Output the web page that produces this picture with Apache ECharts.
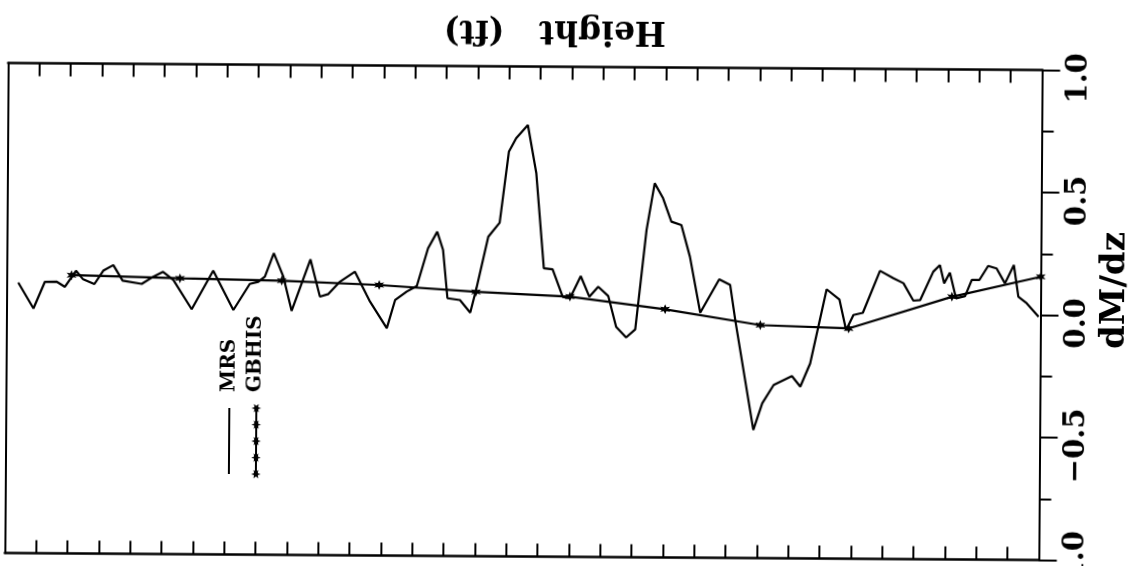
<!DOCTYPE html>
<html>
<head>
<meta charset="utf-8">
<script src="https://cdn.jsdelivr.net/npm/echarts@6/dist/echarts.min.js"></script>
<style>
  html, body { margin: 0; padding: 0; background: #fff; overflow: hidden; }
  #chart {
    width: 1144px; height: 566px; background: #fff;
    transform-origin: 523.5px 311.5px;
    transform: rotate(0.39deg);
  }
</style>
</head>
<body>
<div id="chart"></div>
<script>
// MRS profile: height (ft) and dM/dz
const mrsHeight = [37, 86, 122, 159, 186, 221, 244, 280, 308, 340, 370, 431, 468, 499, 532, 591, 659, 724, 776, 803,
  824, 852, 883, 910, 969, 1000, 1027, 1064, 1111, 1149, 1160, 1214, 1240, 1277, 1309, 1344, 1373, 1392, 1407, 1447,
  1480, 1498, 1536, 1572, 1600, 1623, 1660, 1688, 1714, 1742, 1775, 1798, 1832, 1860, 1888, 1920, 1946, 1978, 2007, 2041,
  2066, 2093, 2120, 2152, 2180, 2214, 2274, 2309, 2326, 2386, 2414, 2450, 2508, 2535, 2566, 2617, 2658, 2680, 2703, 2733,
  2787, 2830, 2862, 2894, 2916, 2957, 2978, 2992, 3010, 3030, 3059, 3080, 3104, 3132, 3159, 3186, 3214, 3229, 3256, 3294];
const mrsValue = [0.104, -0.001, 0.108, 0.109, 0.088, 0.154, 0.119, 0.100, 0.155, 0.178, 0.115, 0.102, 0.132, 0.152, 0.119, 0.000, 0.158, -0.002, 0.105, 0.114,
  0.135, 0.231, 0.135, -0.004, 0.207, 0.055, 0.066, 0.117, 0.158, 0.063, 0.036, -0.072, 0.043, 0.078, 0.101, 0.255, 0.323, 0.249, 0.052, 0.045,
  -0.006, 0.086, 0.304, 0.362, 0.652, 0.707, 0.761, 0.564, 0.177, 0.173, 0.061, 0.055, 0.146, 0.062, 0.103, 0.066, -0.060, -0.103, -0.070, 0.336,
  0.527, 0.466, 0.371, 0.357, 0.228, 0.000, 0.137, 0.114, -0.029, -0.477, -0.368, -0.293, -0.256, -0.299, -0.204, 0.099, 0.058, -0.067, -0.005, 0.004,
  0.176, 0.146, 0.126, 0.055, 0.058, 0.174, 0.201, 0.127, 0.170, 0.066, 0.075, 0.141, 0.141, 0.199, 0.189, 0.128, 0.203, 0.074, 0.047, -0.007];

// GBHIS profile
const gbhisHeight = [207, 553, 878, 1189, 1498, 1798, 2102, 2406, 2688, 3017, 3300];
const gbhisValue = [0.136, 0.126, 0.119, 0.104, 0.079, 0.062, 0.013, -0.049, -0.060, 0.072, 0.156];

// axis ticks
const dmdzTicks = [-1, -0.5, 0, 0.5, 1];
const dmdzTickLabels = ['\u22121.0', '\u22120.5', '0.0', '0.5', '1.0'];
const heightRange = [0, 3300];

const seriesNames = ['MRS', 'GBHIS'];

const SERIF = '"DejaVu Serif", "Liberation Serif", serif';

function starPoints(cx, cy, rOut, rIn, n) {
  const pts = [];
  for (let i = 0; i < 2 * n; i++) {
    const r = i % 2 === 0 ? rOut : rIn;
    const a = -Math.PI / 2 + i * Math.PI / n;
    pts.push([cx + r * Math.cos(a), cy + r * Math.sin(a)]);
  }
  return pts;
}
const starSymbol = 'path://' + starPoints(10, 10, 10, 4.5, 6)
  .map((p, i) => (i ? 'L' : 'M') + p[0].toFixed(2) + ' ' + p[1].toFixed(2)).join(' ') + ' Z';

const mrsData = mrsHeight.map((h, i) => [h, mrsValue[i]]);
const gbhisData = gbhisHeight.map((h, i) => [h, gbhisValue[i]]);

const frameX = {
  type: 'value', min: heightRange[0], max: heightRange[1], interval: 100,
  axisLine: { show: true, onZero: false, lineStyle: { color: '#000', width: 2.5 } },
  axisTick: { show: true, inside: true, length: 13, lineStyle: { color: '#000', width: 2 } },
  axisLabel: { show: false }, splitLine: { show: false }
};

// legend, drawn upright then turned a quarter turn
const legendChildren = [
  { type: 'line', shape: { x1: 0, y1: 0, x2: 66, y2: 0 }, style: { stroke: '#000', lineWidth: 2 } },
  { type: 'text', x: 82, y: 0, style: { text: seriesNames[0], font: 'bold 20px ' + SERIF, fill: '#000', align: 'left', verticalAlign: 'middle' } },
  { type: 'line', shape: { x1: 0, y1: 27, x2: 66, y2: 27 }, style: { stroke: '#000', lineWidth: 2 } },
  { type: 'text', x: 82, y: 26, style: { text: seriesNames[1], font: 'bold 20px ' + SERIF, fill: '#000', align: 'left', verticalAlign: 'middle' } }
];
[0, 16.5, 33, 49.5, 66].forEach(lx => {
  legendChildren.push({ type: 'polygon', shape: { points: starPoints(lx, 27, 4.8, 2.2, 6) }, style: { fill: '#000' } });
});

const chart = echarts.init(document.getElementById('chart'));
chart.setOption({
  animation: false,
  backgroundColor: '#fff',
  grid: { left: 6.5, top: 66.5, width: 1034, height: 490, containLabel: false, outerBoundsMode: 'none' },
  xAxis: [
    Object.assign({}, frameX, { position: 'top' }),
    Object.assign({}, frameX, { position: 'bottom' })
  ],
  yAxis: [
    {
      type: 'value', position: 'right', min: -1, max: 1, interval: 0.5,
      axisLine: { show: true, onZero: false, lineStyle: { color: '#000', width: 2 } },
      axisTick: { show: true, inside: false, length: 18, lineStyle: { color: '#000', width: 2 } },
      minorTick: { show: true, splitNumber: 2, length: 12, lineStyle: { color: '#000', width: 2 } },
      splitLine: { show: false }, minorSplitLine: { show: false },
      axisLabel: {
        show: true, rotate: 90, margin: 22, color: '#000',
        fontFamily: SERIF, fontWeight: 'bold', fontSize: 29,
        padding: [0, 16, 0, 0],
        formatter: v => {
          const i = dmdzTicks.findIndex(t => Math.abs(t - v) < 1e-9);
          return i >= 0 ? dmdzTickLabels[i] : '';
        }
      },
      name: 'dM/dz', nameLocation: 'middle', nameRotate: 90, nameGap: 58, nameMoveOverlap: false,
      nameTextStyle: { color: '#000', fontFamily: SERIF, fontWeight: 'bold', fontSize: 34, padding: [0, 0, 0, 50] }
    },
    {
      type: 'value', position: 'left', min: -1, max: 1,
      axisLine: { show: true, onZero: false, lineStyle: { color: '#000', width: 2 } },
      axisTick: { show: false }, axisLabel: { show: false }, splitLine: { show: false }
    }
  ],
  series: [
    {
      name: seriesNames[0], type: 'line', xAxisIndex: 0, yAxisIndex: 0, data: mrsData,
      showSymbol: false, symbol: 'none', clip: false,
      lineStyle: { color: '#000', width: 2.2 }
    },
    {
      name: seriesNames[1], type: 'line', xAxisIndex: 0, yAxisIndex: 0, data: gbhisData,
      symbol: starSymbol, symbolSize: 10, showSymbol: true, clip: false,
      itemStyle: { color: '#000' },
      lineStyle: { color: '#000', width: 2.2 }
    }
  ],
  graphic: [
    { type: 'group', x: 230, y: 476, rotation: Math.PI / 2, children: legendChildren },
    {
      type: 'text', x: 553, y: 30, rotation: Math.PI,
      style: { text: 'Height   (ft)', font: 'bold 33px ' + SERIF, fill: '#000', align: 'center', verticalAlign: 'middle' }
    }
  ]
});
</script>
</body>
</html>
